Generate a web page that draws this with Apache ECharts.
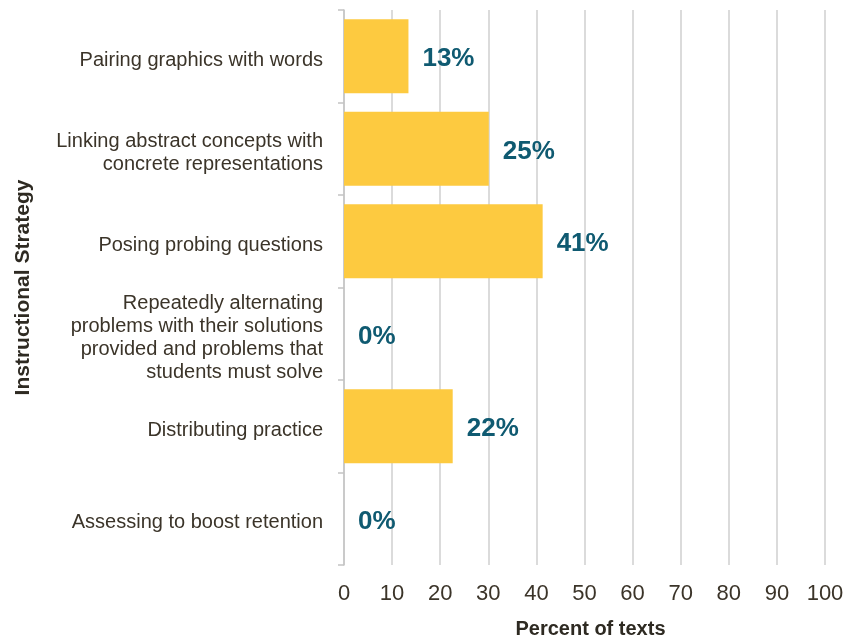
<!DOCTYPE html>
<html>
<head>
<meta charset="utf-8">
<script src="https://cdn.jsdelivr.net/npm/echarts@6/dist/echarts.min.js"></script>
<style>html,body{margin:0;padding:0;background:#fff}#c{width:843px;height:640px}</style>
</head>
<body>
<div id="c"></div>
<script>
const categories = [
  "Pairing graphics with words",
  "Linking abstract concepts with\nconcrete representations",
  "Posing probing questions",
  "Repeatedly alternating\nproblems with their solutions\nprovided and problems that\nstudents must solve",
  "Distributing practice",
  "Assessing to boost retention"
];
const barValues = [13.4, 30.1, 41.3, 0, 22.6, 0];
const valueLabels = ["13%", "25%", "41%", "0%", "22%", "0%"];
const xTicks = [0, 10, 20, 30, 40, 50, 60, 70, 80, 90, 100];

const FONT = '"Liberation Sans", Arial, sans-serif';
const chart = echarts.init(document.getElementById('c'), null, {renderer: 'canvas'});
chart.setOption({
  animation: false,
  grid: {left: 344, right: 18, top: 10, bottom: 75, outerBoundsMode: 'none', containLabel: false},
  xAxis: {
    type: 'value', min: 0, max: 100, interval: 10,
    name: 'Percent of texts', nameLocation: 'middle', nameGap: 54,
    nameTextStyle: {fontFamily: FONT, fontWeight: 'bold', fontSize: 20, color: '#2e2a22', padding: [0, 0, 0, 12]},
    axisLine: {show: false},
    axisTick: {show: false},
    axisLabel: {fontFamily: FONT, fontSize: 22, color: '#3b3429', margin: 18,
      formatter: v => xTicks.includes(v) ? String(v) : ''},
    splitLine: {show: true, lineStyle: {color: '#cfcfcf', width: 1.5}}
  },
  yAxis: {
    type: 'category', data: categories, inverse: true,
    name: 'Instructional Strategy', nameLocation: 'middle', nameGap: 310, nameRotate: 90,
    nameTextStyle: {fontFamily: FONT, fontWeight: 'bold', fontSize: 21, color: '#2e2a22'},
    axisLine: {show: true, lineStyle: {color: '#c4c4c4', width: 1.5}},
    axisTick: {show: true, length: 6, lineStyle: {color: '#c4c4c4', width: 1.5}},
    axisLabel: {fontFamily: FONT, fontSize: 20, color: '#3b3429', margin: 21, lineHeight: 23, align: 'right',
      formatter: v => v.split('\n').map(l => '{a|' + l + '}').join('\n'),
      rich: {a: {fontFamily: FONT, fontSize: 20, color: '#3b3429', lineHeight: 23, padding: [8, 0, 0, 0]}}
    }
  },
  series: [{
    type: 'bar',
    data: barValues,
    barCategoryGap: '20%',
    itemStyle: {color: '#fdca40'},
    label: {
      show: true, position: 'right', distance: 14, offset: [0, 3],
      fontFamily: FONT, fontWeight: 'bold', fontSize: 26, color: '#0f5a71',
      formatter: p => valueLabels[p.dataIndex]
    }
  }]
});
</script>
</body>
</html>
